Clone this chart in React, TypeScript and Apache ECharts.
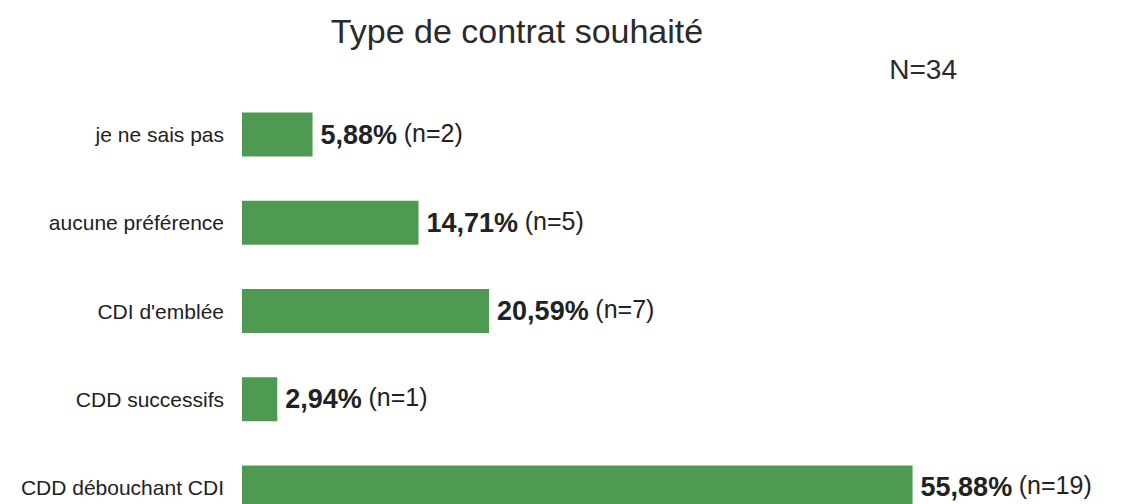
import React, { useEffect, useRef } from "react";
import * as echarts from "echarts";

const categories = ["je ne sais pas", "aucune préférence", "CDI d'emblée", "CDD successifs", "CDD débouchant CDI"];
const percentages = [5.88, 14.71, 20.59, 2.94, 55.88];
const counts = [2, 5, 7, 1, 19];
const titleText = "Type de contrat souhaité";
const totalText = "N=34";

const FONT = "'Liberation Sans', Arial, sans-serif";

export default function App() {
  const ref = useRef<HTMLDivElement>(null);
  useEffect(() => {
    if (!ref.current) return;
    const chart = echarts.init(ref.current, null, { renderer: "svg" });
    chart.setOption({
      animation: false,
      backgroundColor: "#ffffff",
      graphic: [
        {
          type: "text",
          x: 517,
          y: 31,
          style: {
            text: titleText,
            font: `34px ${FONT}`,
            fill: "#2a2a2a",
            textAlign: "center",
            textVerticalAlign: "middle",
          },
        },
        {
          type: "text",
          x: 957,
          y: 69,
          style: {
            text: totalText,
            font: `28px ${FONT}`,
            fill: "#2a2a2a",
            textAlign: "right",
            textVerticalAlign: "middle",
          },
        },
      ],
      grid: {
        left: 242,
        width: 720,
        top: 90.5,
        height: 441,
        containLabel: false,
        outerBoundsMode: "none",
      },
      xAxis: {
        type: "value",
        min: 0,
        max: 60,
        show: false,
      },
      yAxis: {
        type: "category",
        data: categories,
        inverse: true,
        axisLine: { show: false },
        axisTick: { show: false },
        splitLine: { show: false },
        axisLabel: {
          margin: 18,
          fontSize: 21,
          fontFamily: FONT,
          color: "#222222",
        },
      },
      series: [
        {
          type: "bar",
          data: percentages,
          barWidth: 44,
          itemStyle: { color: "#4f9a52" },
          label: {
            show: true,
            position: "right",
            distance: 8,
            formatter: (p: any) =>
              `{a|${p.value.toFixed(2).replace(".", ",")}%}  {b|(n=${counts[p.dataIndex]})}`,
            rich: {
              a: { fontSize: 27, fontWeight: "bold", fontFamily: FONT, color: "#222222" },
              b: { fontSize: 25, fontFamily: FONT, color: "#222222", padding: [0, 0, 4, 0] },
            },
          },
        },
      ],
    });
    return () => chart.dispose();
  }, []);
  return (
    <div
      ref={ref}
      style={{ position: "fixed", left: 0, top: 0, width: 1124, height: 504 }}
    />
  );
}
